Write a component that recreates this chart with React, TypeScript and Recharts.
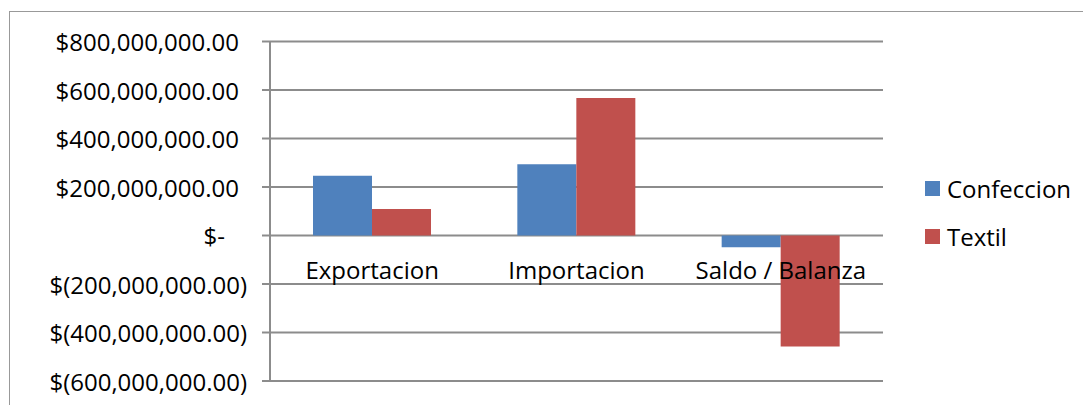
import React from 'react';
import {
  ComposedChart,
  Bar,
  Line,
  XAxis,
  YAxis,
  CartesianGrid,
  Legend,
  LabelList,
} from 'recharts';

// Trade figures per category (USD)
const categories = ['Exportacion', 'Importacion', 'Saldo / Balanza'];
const confeccion = [246000000, 294000000, -48000000];
const textil = [109000000, 567000000, -458000000];
const yTicks = [-600000000, -400000000, -200000000, 0, 200000000, 400000000, 600000000, 800000000];
const seriesNames = ['Confeccion', 'Textil'];
const seriesColors = ['#4F81BD', '#C0504D'];

const data = categories.map((name, i) => ({
  name,
  Confeccion: confeccion[i],
  Textil: textil[i],
  base: 0,
}));

const FONT = '"Open Sans", "DejaVu Sans", sans-serif';
const GRID = '#8c8c8c';

// Accounting-style currency: $1,000.00 / $(1,000.00) / $-
const money = (v: number) => {
  if (v === 0) return '$-';
  const s = Math.abs(v).toLocaleString('en-US', {
    minimumFractionDigits: 2,
    maximumFractionDigits: 2,
  });
  return v < 0 ? `$(${s})` : `$${s}`;
};

const YTick = (props: any) => {
  const { x, y, payload } = props;
  const v = payload.value as number;
  const dx = v === 0 ? -22 : v > 0 ? -8 : 0;
  return (
    <text
      x={x}
      y={y}
      dx={dx}
      textAnchor="end"
      dominantBaseline="central"
      fontSize={24}
      fontFamily={FONT}
      fill="#000"
    >
      {money(v)}
    </text>
  );
};

const CategoryLabel = (props: any) => {
  const { x, y, value } = props;
  return (
    <text
      x={x}
      y={y}
      dy={43}
      textAnchor="middle"
      fontSize={24}
      fontFamily={FONT}
      fill="#000"
    >
      {value}
    </text>
  );
};

const LegendContent = () => (
  <div style={{ fontFamily: FONT, fontSize: 24, color: '#000' }}>
    {seriesNames.map((n, i) => (
      <div
        key={n}
        style={{
          display: 'flex',
          alignItems: 'center',
          height: 28,
          marginBottom: i === 0 ? 20 : 0,
          whiteSpace: 'nowrap',
        }}
      >
        <span
          style={{
            display: 'inline-block',
            width: 15,
            height: 15,
            background: seriesColors[i],
            marginRight: 7,
          }}
        />
        <span>{n}</span>
      </div>
    ))}
  </div>
);

export default function App() {
  return (
    <div
      style={{
        position: 'absolute',
        left: 0,
        top: 0,
        width: 1083,
        height: 405,
        overflow: 'hidden',
        background: '#fff',
      }}
    >
      {/* outer chart frame */}
      <div
        style={{
          position: 'absolute',
          left: 9,
          top: 11,
          width: 1200,
          height: 600,
          borderTop: '1.5px solid #999',
          borderLeft: '1.5px solid #999',
        }}
      />
      <div style={{ position: 'absolute', left: 0, top: 0 }}>
        <ComposedChart
          width={1083}
          height={405}
          data={data}
          margin={{ top: 41.5, right: 200, bottom: 24, left: 8 }}
          barGap={0}
          barSize={59}
        >
          <CartesianGrid vertical={false} horizontal stroke={GRID} strokeWidth={2} />
          <XAxis dataKey="name" hide />
          <YAxis
            width={262}
            domain={[-600000000, 800000000]}
            ticks={yTicks}
            interval={0}
            allowDataOverflow
            tick={<YTick />}
            tickSize={8}
            tickMargin={15}
            tickLine={{ stroke: GRID, strokeWidth: 2 }}
            axisLine={{ stroke: GRID, strokeWidth: 2 }}
          />
          <Bar dataKey="Confeccion" fill={seriesColors[0]} isAnimationActive={false} />
          <Bar dataKey="Textil" fill={seriesColors[1]} isAnimationActive={false} />
          <Line
            dataKey="base"
            stroke="none"
            dot={false}
            activeDot={false}
            legendType="none"
            isAnimationActive={false}
          >
            <LabelList dataKey="name" content={<CategoryLabel />} />
          </Line>
          <Legend
            layout="horizontal"
            align="center"
            verticalAlign="middle"
            content={<LegendContent />}
            wrapperStyle={{ position: 'absolute', left: 925, top: 174, width: 'auto' }}
          />
        </ComposedChart>
      </div>
    </div>
  );
}
